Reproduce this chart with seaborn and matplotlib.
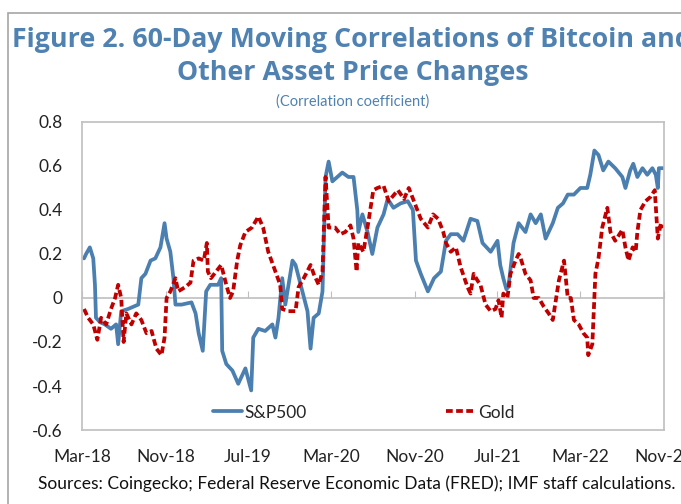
import pandas as pd
import matplotlib
matplotlib.use("Agg")
import matplotlib.pyplot as plt
import matplotlib.dates as mdates
from matplotlib.patches import Rectangle
import seaborn as sns

# S&P500 60-day moving correlation with bitcoin
spx_dates = ["2018-03-07", "2018-03-13", "2018-03-24", "2018-04-03", "2018-04-08", "2018-04-11",
             "2018-04-23", "2018-05-07", "2018-05-25", "2018-06-09", "2018-06-15", "2018-06-24",
             "2018-07-14", "2018-08-13", "2018-08-22", "2018-09-03", "2018-09-18", "2018-10-02",
             "2018-10-17", "2018-10-29", "2018-11-04", "2018-11-15", "2018-11-24", "2018-11-30",
             "2018-12-18", "2019-01-16", "2019-01-28", "2019-02-06", "2019-02-18", "2019-02-28",
             "2019-03-12", "2019-04-04", "2019-04-13", "2019-04-16", "2019-04-28", "2019-05-16",
             "2019-06-02", "2019-06-23", "2019-07-10", "2019-07-16", "2019-07-31", "2019-08-20",
             "2019-09-10", "2019-09-19", "2019-09-28", "2019-10-09", "2019-10-18", "2019-11-08",
             "2019-11-17", "2019-12-07", "2019-12-22", "2019-12-31", "2020-01-09", "2020-01-24",
             "2020-02-04", "2020-02-13", "2020-02-22", "2020-03-04", "2020-04-02", "2020-04-20",
             "2020-05-05", "2020-05-16", "2020-05-19", "2020-05-31", "2020-06-15", "2020-06-29",
             "2020-07-14", "2020-08-01", "2020-08-13", "2020-08-30", "2020-09-20", "2020-10-11",
             "2020-10-26", "2020-11-04", "2020-11-18", "2020-12-09", "2020-12-27", "2021-01-16",
             "2021-01-31", "2021-02-14", "2021-03-06", "2021-03-23", "2021-04-13", "2021-05-03",
             "2021-05-18", "2021-06-11", "2021-07-01", "2021-07-09", "2021-07-18", "2021-07-27",
             "2021-08-02", "2021-08-17", "2021-09-01", "2021-09-21", "2021-10-06", "2021-10-21",
             "2021-11-05", "2021-11-19", "2021-12-10", "2021-12-25", "2022-01-09", "2022-01-23",
             "2022-02-10", "2022-03-01", "2022-03-21", "2022-03-30", "2022-04-11", "2022-04-23",
             "2022-05-07", "2022-05-22", "2022-06-11", "2022-07-02", "2022-07-11", "2022-07-25",
             "2022-08-03", "2022-08-15", "2022-08-30", "2022-09-13", "2022-09-28", "2022-10-08",
             "2022-10-14", "2022-10-17", "2022-10-31"]
spx_corr = [0.18, 0.20, 0.23, 0.18, 0.06, -0.09,
            -0.11, -0.12, -0.14, -0.12, -0.21, -0.06,
            -0.05, -0.03, 0.09, 0.11, 0.17, 0.18,
            0.23, 0.34, 0.27, 0.21, 0.09, -0.03,
            -0.03, -0.02, -0.07, -0.16, -0.24, 0.03,
            0.06, 0.06, 0.09, -0.24, -0.30, -0.33,
            -0.39, -0.32, -0.42, -0.18, -0.14, -0.15,
            -0.12, -0.18, -0.09, 0.09, -0.03, 0.17,
            0.15, 0.03, -0.06, -0.23, -0.09, -0.07,
            0.03, 0.55, 0.62, 0.53, 0.57, 0.55,
            0.55, 0.40, 0.30, 0.38, 0.30, 0.20,
            0.32, 0.38, 0.45, 0.41, 0.43, 0.44,
            0.40, 0.17, 0.11, 0.03, 0.09, 0.12,
            0.26, 0.29, 0.29, 0.26, 0.36, 0.35,
            0.25, 0.21, 0.26, 0.15, 0.09, 0.04,
            0.05, 0.25, 0.34, 0.30, 0.38, 0.34,
            0.38, 0.27, 0.34, 0.41, 0.43, 0.47,
            0.47, 0.50, 0.50, 0.56, 0.67, 0.65,
            0.58, 0.62, 0.59, 0.55, 0.50, 0.58,
            0.61, 0.55, 0.59, 0.56, 0.59, 0.56,
            0.50, 0.59, 0.59]

# Gold 60-day moving correlation with bitcoin
gold_dates = ["2018-03-07", "2018-03-19", "2018-04-03", "2018-04-15", "2018-04-26", "2018-05-11",
              "2018-05-25", "2018-06-06", "2018-06-15", "2018-06-24", "2018-07-01", "2018-07-09",
              "2018-07-24", "2018-08-07", "2018-08-22", "2018-09-06", "2018-09-21", "2018-10-05",
              "2018-10-20", "2018-10-29", "2018-11-04", "2018-11-15", "2018-11-30", "2018-12-08",
              "2018-12-29", "2019-01-13", "2019-01-22", "2019-02-06", "2019-02-21", "2019-03-02",
              "2019-03-05", "2019-03-14", "2019-03-29", "2019-04-13", "2019-04-28", "2019-05-09",
              "2019-05-18", "2019-05-30", "2019-06-08", "2019-06-23", "2019-07-12", "2019-07-31",
              "2019-08-14", "2019-08-29", "2019-09-19", "2019-10-03", "2019-10-09", "2019-10-27",
              "2019-11-17", "2019-11-26", "2019-12-11", "2019-12-31", "2020-01-09", "2020-01-24",
              "2020-02-04", "2020-02-13", "2020-02-22", "2020-03-12", "2020-03-27", "2020-04-11",
              "2020-04-26", "2020-05-05", "2020-05-14", "2020-05-19", "2020-06-03", "2020-06-18",
              "2020-07-02", "2020-07-14", "2020-08-01", "2020-08-16", "2020-09-12", "2020-09-30",
              "2020-10-14", "2020-10-29", "2020-11-18", "2020-12-09", "2020-12-24", "2021-01-08",
              "2021-01-23", "2021-01-31", "2021-02-14", "2021-03-01", "2021-03-15", "2021-04-04",
              "2021-04-13", "2021-04-22", "2021-05-03", "2021-05-12", "2021-05-27", "2021-06-11",
              "2021-06-25", "2021-07-04", "2021-07-13", "2021-07-18", "2021-07-30", "2021-08-08",
              "2021-08-23", "2021-09-01", "2021-09-07", "2021-09-21", "2021-10-06", "2021-10-15",
              "2021-10-30", "2021-11-14", "2021-11-28", "2021-12-10", "2021-12-19", "2021-12-28",
              "2022-01-12", "2022-01-23", "2022-02-01", "2022-02-10", "2022-02-24", "2022-03-10",
              "2022-03-21", "2022-03-24", "2022-04-05", "2022-04-14", "2022-04-23", "2022-05-04",
              "2022-05-19", "2022-05-28", "2022-06-11", "2022-07-02", "2022-07-11", "2022-07-20",
              "2022-08-01", "2022-08-10", "2022-08-15", "2022-08-24", "2022-09-08", "2022-09-23",
              "2022-10-05", "2022-10-14", "2022-10-23", "2022-10-31"]
gold_corr = [-0.05, -0.09, -0.12, -0.19, -0.09, -0.12,
             -0.05, 0.00, 0.06, 0.00, -0.20, -0.07,
             -0.12, -0.07, -0.10, -0.16, -0.15, -0.23,
             -0.26, -0.18, 0.00, 0.03, 0.09, 0.03,
             0.05, 0.07, 0.17, 0.18, 0.17, 0.25,
             0.12, 0.09, 0.12, 0.15, 0.06, 0.00,
             0.03, 0.17, 0.24, 0.30, 0.32, 0.37,
             0.32, 0.21, 0.12, 0.06, -0.05, -0.06,
             -0.06, 0.05, 0.09, 0.15, 0.11, 0.06,
             0.12, 0.55, 0.32, 0.32, 0.29, 0.30,
             0.33, 0.27, 0.12, 0.25, 0.21, 0.35,
             0.49, 0.50, 0.51, 0.44, 0.49, 0.45,
             0.50, 0.44, 0.36, 0.32, 0.38, 0.36,
             0.30, 0.25, 0.21, 0.23, 0.14, 0.05,
             0.02, 0.11, 0.08, 0.06, -0.03, -0.06,
             -0.05, -0.01, -0.09, 0.02, 0.00, 0.11,
             0.17, 0.20, 0.18, 0.11, 0.08, 0.00,
             0.00, -0.04, -0.07, -0.10, -0.01, 0.08,
             0.17, 0.00, 0.00, -0.10, -0.12, -0.16,
             -0.18, -0.26, -0.21, 0.11, 0.18, 0.32,
             0.41, 0.30, 0.26, 0.31, 0.23, 0.17,
             0.23, 0.21, 0.30, 0.40, 0.44, 0.46,
             0.49, 0.27, 0.34, 0.32]

tick_dates = ["2018-03-01", "2018-11-01", "2019-07-01", "2020-03-01",
              "2020-11-01", "2021-07-01", "2022-03-01", "2022-11-01"]
y_ticks = [-0.6, -0.4, -0.2, 0, 0.2, 0.4, 0.6, 0.8]

blue = "#4a7fb0"
red = "#c00000"
grey = "#bfbfbf"

df_spx = pd.DataFrame({"date": pd.to_datetime(spx_dates), "corr": spx_corr})
df_gold = pd.DataFrame({"date": pd.to_datetime(gold_dates), "corr": gold_corr})

sns.set_style("white")
plt.rcParams["font.family"] = ["Lato", "DejaVu Sans"]

fig = plt.figure(figsize=(6.81, 5.04), dpi=100)
ax = fig.add_axes([0.1204, 0.1468, 0.8546, 0.6112])

sns.lineplot(data=df_spx, x="date", y="corr", ax=ax, color=blue, linewidth=2.7, label="S&P500")
sns.lineplot(data=df_gold, x="date", y="corr", ax=ax, color=red, linewidth=2.7,
             linestyle=(0, (1.8, 0.9)), label="Gold")

ax.set_xlim(pd.Timestamp("2018-03-01"), pd.Timestamp("2022-11-01"))
ax.set_ylim(-0.6, 0.8)
ax.set_xlabel("")
ax.set_ylabel("")

ax.set_yticks(y_ticks)
ax.set_yticklabels(["-0.6", "-0.4", "-0.2", "0", "0.2", "0.4", "0.6", "0.8"])
ax.tick_params(axis="y", direction="in", length=5, color=grey, labelsize=12.5, pad=14,
               labelcolor="#222222")

ticks = pd.to_datetime(tick_dates)
ax.set_xticks(ticks)
ax.xaxis.set_major_formatter(mdates.DateFormatter("%b-%y"))
ax.tick_params(axis="x", length=0, labelsize=12.5, pad=14, labelcolor="#222222")

for sp in ax.spines.values():
    sp.set_color(grey)
    sp.set_linewidth(1.2)

# zero line with its own small tick marks
zero_ax = ax.secondary_xaxis(0.6 / 1.4)
zero_ax.set_xticks(ticks)
zero_ax.tick_params(axis="x", direction="in", length=5, color=grey, labelbottom=False)
zero_ax.spines["bottom"].set_color(grey)
zero_ax.spines["bottom"].set_linewidth(1.2)

leg = ax.legend(loc="lower center", bbox_to_anchor=(0.484, -0.02), ncol=2, frameon=False,
                fontsize=12.5, handlelength=1.7, columnspacing=8.0, handletextpad=0.15)

# outer frame
fig.patches.append(Rectangle((8 / 681, -0.1), 1.2, 1 - 13 / 504 + 0.1, transform=fig.transFigure,
                             fill=False, edgecolor="#a6a6a6", linewidth=1.2))

title_color = "#4f81b1"
fig.text(0.516, 0.921, "Figure 2. 60-Day Moving Correlations of Bitcoin and",
         ha="center", va="center", fontsize=19.3, fontweight="bold", color=title_color,
         family=["Open Sans", "DejaVu Sans"])
fig.text(0.518, 0.855, "Other Asset Price Changes", ha="center", va="center",
         fontsize=19.3, fontweight="bold", color=title_color, family=["Open Sans", "DejaVu Sans"])
fig.text(0.518, 0.798, "(Correlation coefficient)", ha="center", va="center",
         fontsize=10.5, color=title_color)
fig.text(0.524, 0.040, "Sources: Coingecko; Federal Reserve Economic Data (FRED); IMF staff calculations.",
         ha="center", va="center", fontsize=12.5, color="#111111")

fig.savefig("out.png", dpi=100)
